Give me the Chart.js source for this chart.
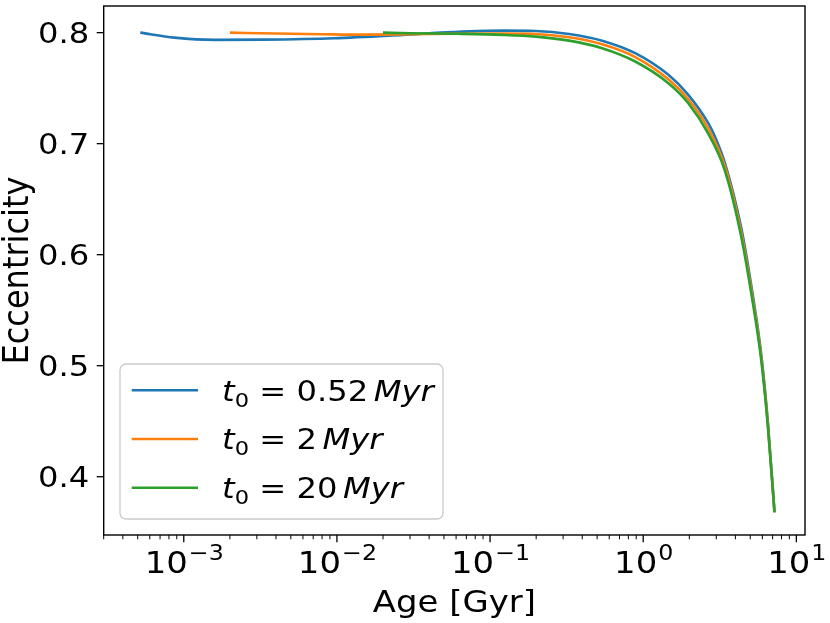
<!DOCTYPE html>
<html lang="en">
<head>
<meta charset="UTF-8">
<title>Eccentricity vs Age</title>
<script src="https://cdn.jsdelivr.net/npm/chart.js"></script>
<style>
  * { margin: 0; padding: 0; }
  body { background: #fff; }
  canvas { display: block; }
</style>
</head>
<body>
<canvas id="eccChart" width="830" height="623"></canvas>
<script>
// t0 values for the legend and line colours
const t0Labels = ['0.52', '2', '20'];
const seriesColors = ['#1f77b4', '#ff7f0e', '#2ca02c'];

// t0 = 0.52 Myr
const ageA = [0.00052, 0.00087, 0.0016, 0.0033, 0.0096, 0.027, 0.057, 0.121, 0.199, 0.328, 0.539, 0.887, 1.46, 1.97, 2.66, 2.94, 3.41, 4.37, 5.08, 5.90, 6.52, 7.2];
const eccA = [0.800, 0.7955, 0.7935, 0.7937, 0.795, 0.798, 0.8005, 0.8018, 0.8015, 0.7988, 0.7928, 0.7815, 0.762, 0.744, 0.7185, 0.7064, 0.683, 0.624, 0.572, 0.510, 0.449, 0.368];

// t0 = 2 Myr
const ageB = [0.002, 0.004, 0.008, 0.015, 0.03, 0.06, 0.121, 0.199, 0.328, 0.539, 0.887, 1.46, 1.97, 2.66, 3.41, 4.37, 5.08, 5.90, 6.52, 7.2];
const eccB = [0.800, 0.7992, 0.7986, 0.7982, 0.7985, 0.799, 0.7992, 0.7988, 0.7958, 0.7895, 0.778, 0.758, 0.740, 0.7135, 0.680, 0.620, 0.5685, 0.5075, 0.447, 0.368];

// t0 = 20 Myr
const ageC = [0.02, 0.03, 0.06, 0.121, 0.199, 0.328, 0.539, 0.887, 1.46, 1.97, 2.66, 3.41, 4.37, 5.08, 5.90, 6.52, 7.2];
const eccC = [0.800, 0.7995, 0.799, 0.798, 0.7964, 0.7928, 0.786, 0.774, 0.7545, 0.7365, 0.709, 0.676, 0.616, 0.565, 0.505, 0.445, 0.368];

// axis ticks
const yTicks = [0.4, 0.5, 0.6, 0.7, 0.8];
const yTickLabels = ['0.4', '0.5', '0.6', '0.7', '0.8'];
const xTickExps = [-4, -3, -2, -1, 0, 1];
const xLabel = 'Age [Gyr]';
const yLabel = 'Eccentricity';

const FONT = "'DejaVu Sans', sans-serif";
const SX = 1.13; // the reference text is a bit wide

function toPoints(xs, ys) {
    return xs.map((x, i) => ({ x: x, y: ys[i] }));
}

function wideText(ctx, text, x, y, align) {
    const w = ctx.measureText(text).width * SX;
    let x0 = x;
    if (align === 'right') x0 = x - w;
    if (align === 'center') x0 = x - w / 2;
    ctx.save();
    ctx.translate(x0, y);
    ctx.scale(SX, 1);
    ctx.textAlign = 'left';
    ctx.fillText(text, 0, 0);
    ctx.restore();
    return w;
}

const decor = {
    id: 'decor',
    afterDraw(chart) {
        const ctx = chart.ctx;
        const xs = chart.scales.x;
        const ys = chart.scales.y;
        const a = chart.chartArea;
        ctx.save();
        ctx.fillStyle = '#000';
        ctx.strokeStyle = '#000';
        ctx.textBaseline = 'alphabetic';

        // frame
        ctx.lineWidth = 1.4;
        ctx.strokeRect(a.left, a.top, a.right - a.left, a.bottom - a.top);

        // y ticks
        ctx.font = '28.5px ' + FONT;
        yTicks.forEach((v, i) => {
            const py = ys.getPixelForValue(v);
            ctx.lineWidth = 1.3;
            ctx.beginPath();
            ctx.moveTo(a.left - 7, py);
            ctx.lineTo(a.left, py);
            ctx.stroke();
            wideText(ctx, yTickLabels[i], a.left - 14.4, py + 10.4, 'right');
        });

        // x ticks, major and minor
        xTickExps.forEach(e => {
            const base = Math.pow(10, e);
            for (let m = 1; m < 10; m++) {
                const v = base * m;
                if (v < xs.min || v > xs.max) continue;
                const px = xs.getPixelForValue(v);
                ctx.lineWidth = m === 1 ? 1.3 : 1.0;
                ctx.beginPath();
                ctx.moveTo(px, a.bottom);
                ctx.lineTo(px, a.bottom + (m === 1 ? 7.3 : 4.3));
                ctx.stroke();
            }
            if (base < xs.min || base > xs.max) return;
            const px = xs.getPixelForValue(base);
            const expTxt = String(e).replace('-', '\u2212');
            ctx.font = '30px ' + FONT;
            const wb = ctx.measureText('10').width * SX;
            ctx.font = '21px ' + FONT;
            const we = ctx.measureText(expTxt).width * SX;
            const x0 = px - (wb + we) / 2;
            ctx.font = '30px ' + FONT;
            wideText(ctx, '10', x0, 572.7, 'left');
            ctx.font = '21px ' + FONT;
            wideText(ctx, expTxt, x0 + wb + 1, 560, 'left');
        });

        // axis titles
        ctx.font = '30px ' + FONT;
        wideText(ctx, xLabel, (a.left + a.right) / 2, 611.7, 'center');
        ctx.save();
        ctx.translate(28.3, (a.top + a.bottom) / 2);
        ctx.rotate(-Math.PI / 2);
        ctx.scale(1, SX);
        ctx.font = '32px ' + FONT;
        ctx.textAlign = 'center';
        ctx.fillText(yLabel, 0, 0);
        ctx.restore();

        // legend box
        const lx = 120, ly = 364, lw = 323, lh = 155;
        ctx.beginPath();
        ctx.roundRect(lx, ly, lw, lh, 6);
        ctx.fillStyle = 'rgba(255,255,255,0.8)';
        ctx.fill();
        ctx.lineWidth = 1.3;
        ctx.strokeStyle = '#cccccc';
        ctx.stroke();

        chart.data.datasets.forEach((ds, i) => {
            const y = 390.3 + i * 48.7;
            ctx.strokeStyle = ds.borderColor;
            ctx.lineWidth = 2.6;
            ctx.beginPath();
            ctx.moveTo(131.7, y);
            ctx.lineTo(198, y);
            ctx.stroke();

            ctx.fillStyle = '#000';
            let x = 222;
            const bl = y + 10.2;
            ctx.font = 'italic 28.5px ' + FONT;
            x += wideText(ctx, 't', x, bl, 'left');
            ctx.font = '20px ' + FONT;
            x += wideText(ctx, '0', x, bl + 6, 'left');
            ctx.font = '28.5px ' + FONT;
            x += wideText(ctx, ' = ' + t0Labels[i], x, bl, 'left');
            x += 28.5 * 0.17 * SX;
            ctx.font = 'italic 28.5px ' + FONT;
            wideText(ctx, 'Myr', x, bl, 'left');
        });

        ctx.restore();
    }
};

const ctx = document.getElementById('eccChart').getContext('2d');

const chart = new Chart(ctx, {
    type: 'line',
    data: {
        datasets: [
            { label: t0Labels[0], data: toPoints(ageA, eccA), borderColor: seriesColors[0], order: 3 },
            { label: t0Labels[1], data: toPoints(ageB, eccB), borderColor: seriesColors[1], order: 2 },
            { label: t0Labels[2], data: toPoints(ageC, eccC), borderColor: seriesColors[2], order: 1 }
        ]
    },
    options: {
        responsive: false,
        animation: false,
        layout: { padding: { left: 0, right: 25, top: 6, bottom: 0 } },
        elements: {
            point: { radius: 0 },
            line: { borderWidth: 2.6, cubicInterpolationMode: 'monotone', fill: false }
        },
        scales: {
            x: {
                type: 'logarithmic',
                min: 3.21e-4,
                max: 11.39,
                ticks: { display: false },
                grid: { display: false },
                border: { display: false },
                afterFit: s => { s.height = 88; }
            },
            y: {
                min: 0.3475,
                max: 0.824,
                ticks: { display: false },
                grid: { display: false },
                border: { display: false },
                afterFit: s => { s.width = 103.7; }
            }
        },
        plugins: {
            legend: { display: false },
            tooltip: { enabled: false }
        }
    },
    plugins: [decor]
});
</script>
</body>
</html>
